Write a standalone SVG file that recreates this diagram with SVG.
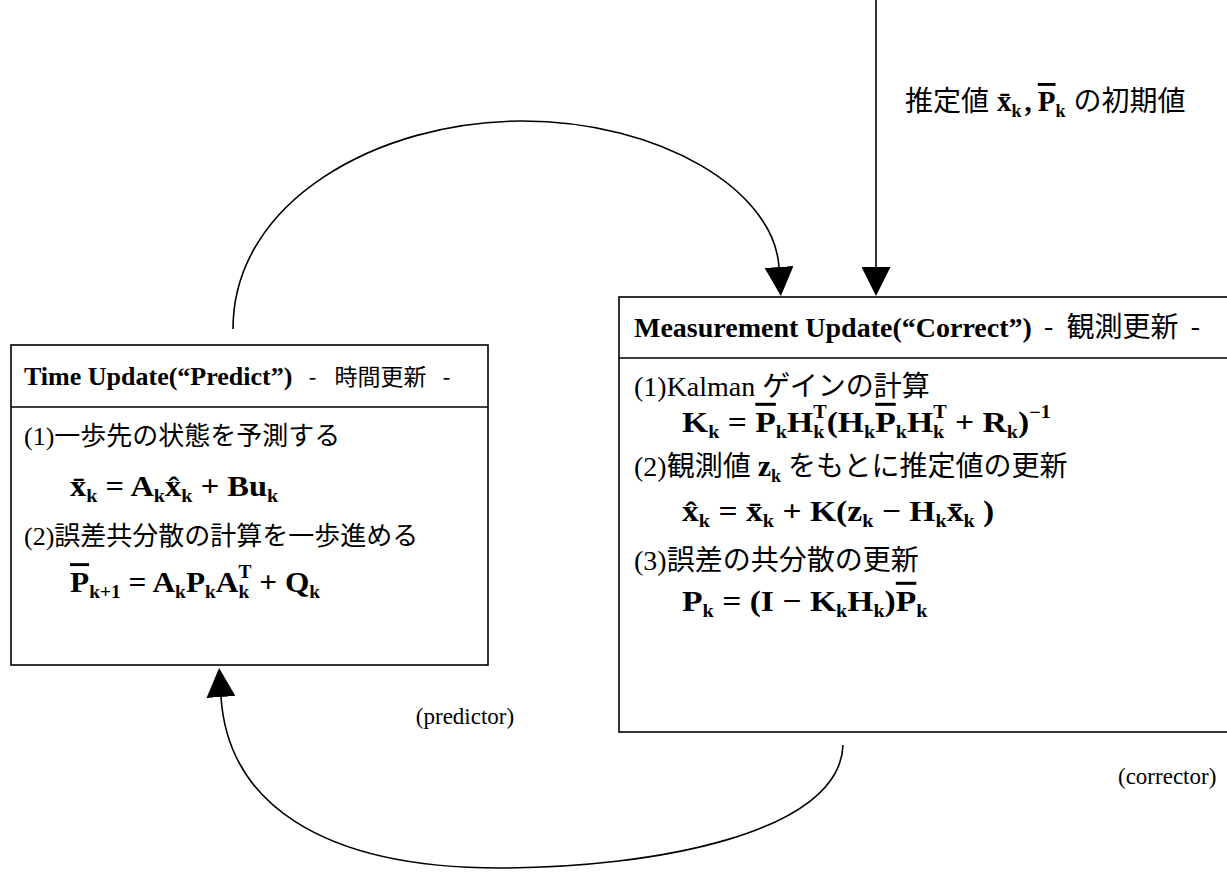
<svg xmlns="http://www.w3.org/2000/svg" width="1227" height="890" viewBox="0 0 1227 890">
<style>
.box{fill:#fff;stroke:#000;stroke-width:1.6}
.div{stroke:#000;stroke-width:1.6}
.con{fill:none;stroke:#000;stroke-width:1.6}
.cj{font-family:"Noto Sans CJK JP","Noto Sans",sans-serif;font-weight:normal}
.tr{font-family:"Liberation Serif","Noto Sans CJK JP",serif}
.hb{font-family:"Liberation Serif",serif;font-weight:bold}
.m{font-family:"Liberation Serif",serif;font-weight:bold;font-size:30px}
.ml{font-size:29px}
.s{font-size:18px}
.ol{text-decoration:overline}
.lab{font-family:"Liberation Serif",serif;font-size:23px}
.f26{font-size:26px}
.f28{font-size:28px}
.f23{font-size:23px}
text{fill:#000}
</style>
<defs>
<marker id="ah" viewBox="0 0 29 29" refX="0" refY="14.5" markerWidth="29" markerHeight="29" markerUnits="userSpaceOnUse" orient="auto">
<path d="M0,0 L29,14.5 L0,29 z" fill="#000"/>
</marker>
</defs>
<g id="connectors">
<path class="con" d="M876,0 L876,267" marker-end="url(#ah)"/>
<path class="con" d="M233,329 C233,200 380,121 522,121 C660,121 774,190 779,267" marker-end="url(#ah)"/>
<path class="con" d="M843,745 C840,834 650,868 500,868 C320,868 228,802 221,697" marker-end="url(#ah)"/>
</g>
<g id="init-label">
<text x="905" y="111"><tspan class="cj f28">推定値</tspan><tspan class="m ml" dx="8">x&#x304;</tspan><tspan class="m s" dy="6">k</tspan><tspan class="m ml" dx="3" dy="-6">,</tspan><tspan class="m ml ol" dx="6">P</tspan><tspan class="m s" dy="6">k</tspan><tspan class="cj f28" dx="8" dy="-6">の初期値</tspan></text>
</g>
<g id="time-update">
<rect class="box" x="11" y="345" width="477" height="320"/>
<line class="div" x1="11" y1="407" x2="488" y2="407"/>
<text x="24" y="385"><tspan class="hb f26">Time Update(“Predict”)</tspan><tspan class="cj f23" dx="16">-</tspan><tspan class="cj f23" dx="18">時間更新</tspan><tspan class="cj f23" dx="16">-</tspan></text>
<text x="24" y="445"><tspan class="tr f26">(1)</tspan><tspan class="cj f26">一歩先の状態を予測する</tspan></text>
<text class="m ml" transform="translate(70,496) scale(1.12,1)" x="0" y="0">x&#x304;<tspan class="s" dy="6">k</tspan><tspan dy="-6"> = A</tspan><tspan class="s" dy="6">k</tspan><tspan dy="-6">x&#x302;</tspan><tspan class="s" dy="6">k</tspan><tspan dy="-6"> + Bu</tspan><tspan class="s" dy="6">k</tspan></text>
<text x="24" y="545"><tspan class="tr f26">(2)</tspan><tspan class="cj f26">誤差共分散の計算を一歩進める</tspan></text>
<text class="m ml" transform="translate(70,592) scale(1.08,1)" x="0" y="0"><tspan class="ol">P</tspan><tspan class="s" dy="6">k+1</tspan><tspan dy="-6"> = A</tspan><tspan class="s" dy="6">k</tspan><tspan dy="-6">P</tspan><tspan class="s" dy="6">k</tspan><tspan dy="-6">A</tspan><tspan class="s" dy="6">k</tspan><tspan class="s" dx="-10" dy="-20">T</tspan><tspan dy="14"> + Q</tspan><tspan class="s" dy="6">k</tspan></text>
</g>
<g id="measurement-update">
<rect class="box" x="619" y="297" width="640" height="435"/>
<line class="div" x1="619" y1="358" x2="1227" y2="358"/>
<text x="634" y="337"><tspan class="hb f28">Measurement Update(“Correct”)</tspan><tspan class="cj f28" dx="12">-</tspan><tspan class="cj f28" dx="13">観測更新</tspan><tspan class="cj f28" dx="12">-</tspan></text>
<text x="634" y="396"><tspan class="tr f28">(1)Kalman </tspan><tspan class="cj f28">ゲインの計算</tspan></text>
<text class="m" transform="translate(682,432) scale(1.12,1)" x="0" y="0">K<tspan class="s" dy="6">k</tspan><tspan dy="-6"> = </tspan><tspan class="ol">P</tspan><tspan class="s" dy="6">k</tspan><tspan dy="-6">H</tspan><tspan class="s" dy="6">k</tspan><tspan class="s" dx="-10" dy="-20">T</tspan><tspan dy="14">(H</tspan><tspan class="s" dy="6">k</tspan><tspan class="ol" dy="-6">P</tspan><tspan class="s" dy="6">k</tspan><tspan dy="-6">H</tspan><tspan class="s" dy="6">k</tspan><tspan class="s" dx="-10" dy="-20">T</tspan><tspan dy="14"> + R</tspan><tspan class="s" dy="6">k</tspan><tspan dy="-6">)</tspan><tspan class="s" dy="-14">−1</tspan></text>
<text x="634" y="476"><tspan class="tr f28">(2)</tspan><tspan class="cj f28">観測値</tspan><tspan class="m" dx="7">z</tspan><tspan class="m s" dy="6">k</tspan><tspan class="cj f28" dx="7" dy="-6">をもとに推定値の更新</tspan></text>
<text class="m" transform="translate(682,521) scale(1.12,1)" x="0" y="0">x&#x302;<tspan class="s" dy="6">k</tspan><tspan dy="-6"> = x&#x304;</tspan><tspan class="s" dy="6">k</tspan><tspan dy="-6"> + K(z</tspan><tspan class="s" dy="6">k</tspan><tspan dy="-6"> − H</tspan><tspan class="s" dy="6">k</tspan><tspan dy="-6">x&#x304;</tspan><tspan class="s" dy="6">k</tspan><tspan dy="-6"> )</tspan></text>
<text x="634" y="570"><tspan class="tr f28">(3)</tspan><tspan class="cj f28">誤差の共分散の更新</tspan></text>
<text class="m" transform="translate(682,611) scale(1.12,1)" x="0" y="0">P<tspan class="s" dy="6">k</tspan><tspan dy="-6"> = (I − K</tspan><tspan class="s" dy="6">k</tspan><tspan dy="-6">H</tspan><tspan class="s" dy="6">k</tspan><tspan dy="-6">)</tspan><tspan class="ol">P</tspan><tspan class="s" dy="6">k</tspan></text>
</g>
<g id="labels">
<text class="lab" x="465" y="724" text-anchor="middle">(predictor)</text>
<text class="lab" x="1118" y="784">(corrector)</text>
</g>
</svg>
